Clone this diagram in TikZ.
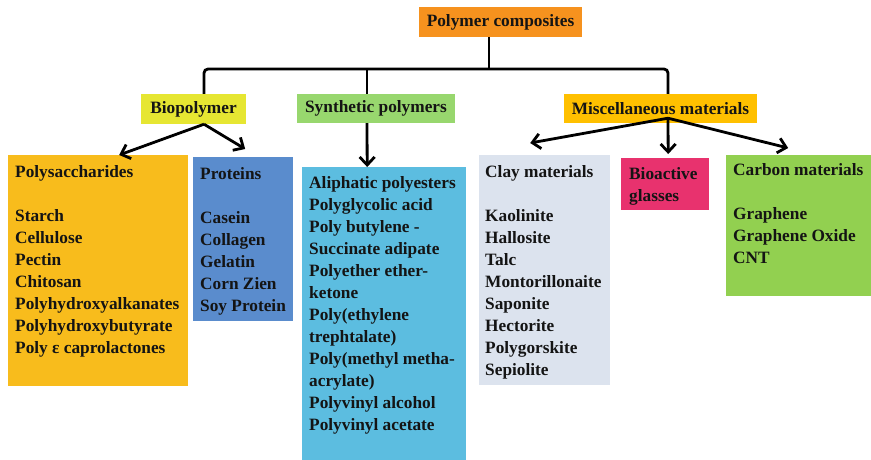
\documentclass[tikz,border=0pt]{standalone}
\usepackage{fontspec}
\setmainfont{Liberation Serif}
\usetikzlibrary{arrows.meta}
\definecolor{cTop}{RGB}{246,146,30}
\definecolor{cBio}{RGB}{230,230,50}
\definecolor{cSyn}{RGB}{152,215,110}
\definecolor{cMisc}{RGB}{255,192,0}
\definecolor{cPoly}{RGB}{248,188,28}
\definecolor{cProt}{RGB}{90,140,205}
\definecolor{cSynL}{RGB}{92,189,224}
\definecolor{cClay}{RGB}{220,227,238}
\definecolor{cGlass}{RGB}{232,50,110}
\definecolor{cCarb}{RGB}{146,208,80}
\definecolor{txt}{RGB}{20,20,20}
\begin{document}
\begin{tikzpicture}[x=1pt,y=-1pt,
  lbl/.style={font=\fontsize{17.3}{22}\selectfont\bfseries, text=txt},
  head/.style={lbl, inner sep=0pt},
  panel/.style={anchor=north west, inner sep=0pt, draw=none},
  list/.style={lbl, anchor=north west, inner sep=0pt, align=left},
  conn/.style={line width=2.8pt, draw=black},
  arr/.style={conn, -{Straight Barb[length=8pt,width=15pt,line width=2.8pt]}}
]
\useasboundingbox (0,0) rectangle (871,460);

% top level
\node[head, fill=cTop, minimum width=163pt, minimum height=30pt] (top) at (500.5,22) {Polymer composites};
\node[head, fill=cBio, minimum width=105pt, minimum height=30pt] (bio) at (193.5,109) {Biopolymer};
\node[head, fill=cSyn, minimum width=158pt, minimum height=29pt] (syn) at (376,108.5) {Synthetic polymers};
\node[head, fill=cMisc, minimum width=193pt, minimum height=29pt] (misc) at (660.5,108.5) {Miscellaneous materials};

% panels
\node[panel, fill=cPoly, minimum width=180pt, minimum height=231pt] (poly) at (8,155) {};
\node[panel, fill=cProt, minimum width=100pt, minimum height=164pt] (prot) at (193,157) {};
\node[panel, fill=cSynL, minimum width=164pt, minimum height=293pt] (synl) at (302,167) {};
\node[panel, fill=cClay, minimum width=131pt, minimum height=230pt] (clay) at (479,155) {};
\node[panel, fill=cGlass, minimum width=88pt, minimum height=52pt] (glass) at (621,158) {};
\node[panel, fill=cCarb, minimum width=145pt, minimum height=141pt] (carb) at (726,155) {};

% texts
\node[list] (polyt) at (15,164) {\rule{0pt}{13pt}Polysaccharides\\[22pt] Starch\\ Cellulose\\ Pectin\\ Chitosan\\ Polyhydroxyalkanates\\ Polyhydroxybutyrate\\ Poly ε caprolactones};
\node[list] (prott) at (200,166) {\rule{0pt}{13pt}Proteins\\[22pt] Casein\\ Collagen\\ Gelatin\\ Corn Zien\\ Soy Protein};
\node[list] (synt) at (309,175) {\rule{0pt}{13pt}Aliphatic polyesters\\ Polyglycolic acid\\ Poly butylene -\\ Succinate adipate\\ Polyether ether-\\ ketone\\ Poly(ethylene\\ trephtalate)\\ Poly(methyl metha-\\ acrylate)\\ Polyvinyl alcohol\\ Polyvinyl acetate};
\node[list] (clayt) at (485,164) {\rule{0pt}{13pt}Clay materials\\[22pt] Kaolinite\\ Hallosite\\ Talc\\ Montorillonaite\\ Saponite\\ Hectorite\\ Polygorskite\\ Sepiolite};
\node[list] (glasst) at (629,166) {\rule{0pt}{13pt}Bioactive\\ glasses};
\node[list] (carbt) at (733,162) {\rule{0pt}{13pt}Carbon materials\\[22pt] Graphene\\ Graphene Oxide\\ CNT};

% tree connectors
\coordinate (j) at (489,69);
\draw[conn] ([xshift=-11.5pt]top.south) -- (j);
\draw[conn, rounded corners=4pt] ([xshift=10.5pt]bio.north) -- ([xshift=10.5pt]bio.north |- j) -- ([xshift=7.5pt]misc.north |- j) -- ([xshift=7.5pt]misc.north);
\draw[conn] ([xshift=-9pt]syn.north |- j) -- ([xshift=-9pt]syn.north);

% arrows
\draw[arr] ([xshift=10.5pt]bio.south) -- ([xshift=21pt]poly.north);
\draw[arr] ([xshift=10.5pt]bio.south) -- ([xshift=2pt,yshift=8pt]prot.north);
\draw[arr] ([xshift=-9pt]syn.south) -- ([xshift=-17pt]synl.north);
\draw[arr] ([xshift=7.5pt,yshift=5pt]misc.south) -- ([xshift=-14.5pt,yshift=12pt]clay.north);
\draw[arr] ([xshift=7.5pt,yshift=5pt]misc.south) -- ([xshift=3pt,yshift=4pt]glass.north);
\draw[arr] ([xshift=7.5pt,yshift=5pt]misc.south) -- ([xshift=-10.5pt,yshift=7pt]carb.north);
\end{tikzpicture}
\end{document}
